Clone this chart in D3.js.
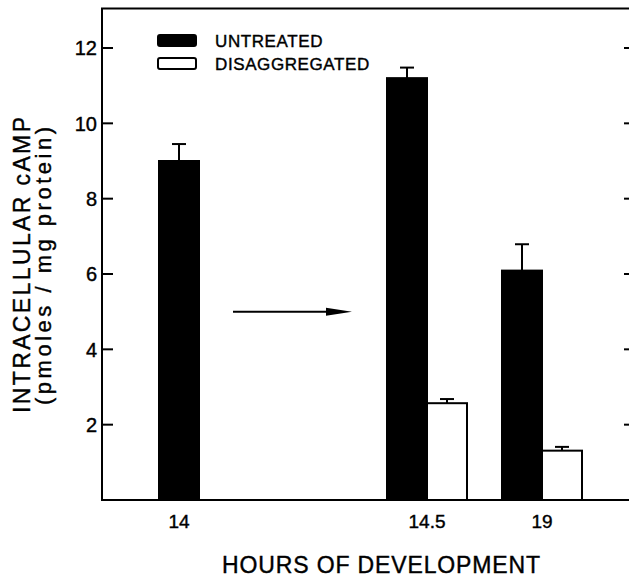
<!DOCTYPE html>
<html>
<head>
<meta charset="utf-8">
<script src="https://cdn.jsdelivr.net/npm/d3@7"></script>
<style>
  body { margin: 0; background: #fff; }
  svg { display: block; font-family: "Liberation Sans", Arial, sans-serif; }
  svg text { stroke: #000; stroke-width: 0.4px; }
</style>
</head>
<body>
<svg id="chart" width="629" height="580"></svg>
<script>
var hours = ['14', '14.5', '19'];
var seriesNames = ['UNTREATED', 'DISAGGREGATED'];
// mean cAMP and top of error bar, per hour; null = not measured
var untreated = [9.0, 11.2, 6.09];
var untreatedErr = [9.45, 11.48, 6.79];
var disaggregated = [null, 2.57, 1.31];
var disaggregatedErr = [null, 2.68, 1.41];
var yTicks = [2, 4, 6, 8, 10, 12];

var svg = d3.select('#chart'),
    left = 102,
    right = 629,
    bottom = 500,
    barW = 40;

var y = d3.scaleLinear().domain([0, 12]).range([bottom, 48]);
var frameTop = y(13.05);

// the groups are not evenly spaced in the figure
var x = d3.scaleOrdinal().domain(hours).range([179, 427, 542]);

var bars = [];
hours.forEach(function(h, i) {
  var both = disaggregated[i] != null;
  bars.push({ h: h, series: 0, v: untreated[i], err: untreatedErr[i],
              x0: both ? x(h) - barW : x(h) - barW / 2 });
  if (both) {
    bars.push({ h: h, series: 1, v: disaggregated[i], err: disaggregatedErr[i],
                x0: x(h) });
  }
});

// error bars first so the bar outline sits on top
svg.selectAll('.err')
  .data(bars)
  .enter()
  .append('g')
    .attr('class', 'err')
    .attr('stroke', '#000')
    .attr('stroke-width', 2)
    .each(function(d) {
      var g = d3.select(this), cx = d.x0 + barW / 2;
      g.append('line')
        .attr('x1', cx).attr('x2', cx)
        .attr('y1', y(d.v)).attr('y2', y(d.err));
      g.append('line')
        .attr('x1', cx - 7).attr('x2', cx + 7)
        .attr('y1', y(d.err)).attr('y2', y(d.err));
    });

svg.selectAll('.bar')
  .data(bars)
  .enter()
  .append('rect')
    .attr('class', 'bar')
    .attr('x', function(d) { return d.x0; })
    .attr('y', function(d) { return y(d.v); })
    .attr('width', barW)
    .attr('height', function(d) { return bottom - y(d.v); })
    .attr('fill', function(d) { return d.series === 0 ? '#000' : '#fff'; })
    .attr('stroke', '#000')
    .attr('stroke-width', 2);

// frame: left, top and bottom lines
svg.append('path')
  .attr('d', 'M' + right + ',' + frameTop + 'H' + left + 'V' + bottom + 'H' + right)
  .attr('fill', 'none')
  .attr('stroke', '#000')
  .attr('stroke-width', 2);

var ticks = svg.selectAll('.ytick')
  .data(yTicks)
  .enter()
  .append('g')
    .attr('class', 'ytick')
    .attr('transform', function(d) { return 'translate(0,' + y(d) + ')'; });

ticks.append('line')
  .attr('x1', left).attr('x2', left + 11)
  .attr('stroke', '#000').attr('stroke-width', 2);

ticks.append('line')
  .attr('x1', right - 5).attr('x2', right)
  .attr('stroke', '#000').attr('stroke-width', 2);

ticks.append('text')
  .attr('x', left - 5)
  .attr('dy', '0.36em')
  .attr('text-anchor', 'end')
  .attr('font-size', 20)
  .text(function(d) { return d; });

svg.selectAll('.xlabel')
  .data(hours)
  .enter()
  .append('text')
    .attr('class', 'xlabel')
    .attr('x', function(d) { return x(d); })
    .attr('y', 528)
    .attr('text-anchor', 'middle')
    .attr('font-size', 19)
    .text(function(d) { return d; });

svg.append('text')
  .attr('x', 222)
  .attr('y', 573)
  .attr('font-size', 23)
  .attr('textLength', 318)
  .attr('lengthAdjust', 'spacing')
  .text('HOURS OF DEVELOPMENT');

svg.append('text')
  .attr('transform', 'translate(30,413) rotate(-90)')
  .attr('font-size', 23)
  .attr('textLength', 296)
  .attr('lengthAdjust', 'spacing')
  .text('INTRACELLULAR cAMP');

svg.append('text')
  .attr('transform', 'translate(51,405) rotate(-90)')
  .attr('font-size', 22)
  .attr('textLength', 278)
  .attr('lengthAdjust', 'spacing')
  .text('(pmoles / mg protein)');

// legend
var legend = svg.selectAll('.legend-item')
  .data(seriesNames)
  .enter()
  .append('g')
    .attr('class', 'legend-item')
    .attr('transform', function(d, i) { return 'translate(158,' + (35 + i * 23) + ')'; });

legend.append('rect')
  .attr('width', 38)
  .attr('height', 11)
  .attr('rx', 2)
  .attr('fill', function(d, i) { return i === 0 ? '#000' : '#fff'; })
  .attr('stroke', '#000')
  .attr('stroke-width', 2);

legend.append('text')
  .attr('x', 57)
  .attr('y', 12)
  .attr('font-size', 17)
  .attr('letter-spacing', 0.6)
  .text(function(d) { return d; });

// arrow from the 14 h bar towards the 14.5 h group
var ay = y(5.0);
svg.append('line')
  .attr('x1', 233).attr('x2', 330)
  .attr('y1', ay).attr('y2', ay)
  .attr('stroke', '#000')
  .attr('stroke-width', 2);

svg.append('path')
  .attr('d', 'M326,' + (ay - 4) + 'L352,' + ay + 'L326,' + (ay + 4) + 'Z')
  .attr('fill', '#000');
</script>
</body>
</html>
